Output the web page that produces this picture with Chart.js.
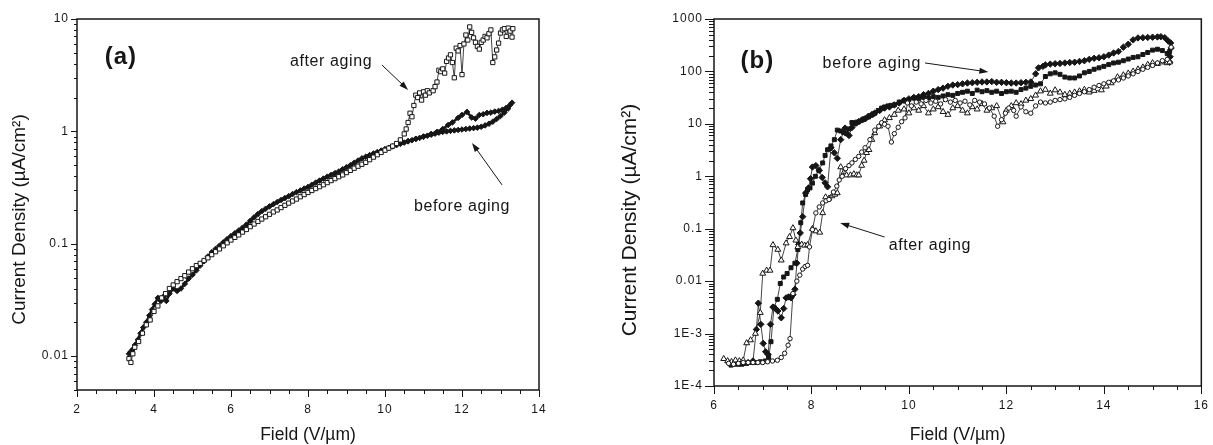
<!DOCTYPE html>
<html>
<head>
<meta charset="utf-8">
<title>Current Density vs Field, before and after aging</title>
<script src="https://cdn.jsdelivr.net/npm/chart.js"></script>
<style>
    html, body { margin: 0; padding: 0; background: #fff; }
    body { width: 1213px; height: 445px; position: relative; overflow: hidden; }
    .panel { position: absolute; top: 0; height: 445px; }
    #panelA { left: 0; width: 600px; }
    #panelB { left: 610px; width: 603px; }
</style>
</head>
<body>
<div class="panel" id="panelA"><canvas id="chartA"></canvas></div>
<div class="panel" id="panelB"><canvas id="chartB"></canvas></div>

<script>
    // ---- panel (a): axes ----
    const aXRange = [2, 14];
    const aYRange = [0.005, 10];
    const aXLabels = [2, 4, 6, 8, 10, 12, 14];
    const aYMajor = [0.01, 0.1, 1, 10];
    const aYLabels = ['0.01', '0.1', '1', '10'];

    // ---- panel (a): before aging (filled), [field, current density] ----
    const aBefore = [
        [3.35,0.0105],[3.4,0.011],[3.45,0.0115],[3.5,0.0125],[3.58,0.014],[3.65,0.016],[3.72,0.018],[3.8,0.020],
        [3.88,0.023],[3.95,0.026],[4.02,0.029],[4.1,0.033],[4.18,0.031],[4.25,0.034],[4.32,0.031],[4.4,0.036],
        [4.5,0.040],[4.6,0.038],[4.7,0.040],[4.8,0.044],[4.9,0.049],[5.0,0.053],[5.1,0.058],[5.2,0.064],
        [5.3,0.070],[5.4,0.077],[5.5,0.084],[5.6,0.090],[5.7,0.096],[5.8,0.103],[5.9,0.110],[6.0,0.117],
        [6.1,0.124],[6.2,0.131],[6.3,0.139],[6.4,0.148],[6.5,0.160],[6.6,0.172],[6.7,0.184],[6.8,0.195],
        [6.9,0.205],[7.0,0.215],[7.1,0.225],[7.2,0.235],[7.3,0.245],[7.4,0.255],[7.5,0.265],[7.6,0.277],
        [7.7,0.288],[7.8,0.298],[7.9,0.31],[8.0,0.32],[8.1,0.335],[8.2,0.35],[8.3,0.365],[8.4,0.38],
        [8.5,0.395],[8.6,0.41],[8.7,0.425],[8.8,0.44],[8.9,0.46],[9.0,0.48],[9.1,0.50],[9.2,0.525],
        [9.3,0.55],[9.4,0.575],[9.5,0.595],[9.6,0.615],[9.7,0.635],[9.8,0.655],[9.9,0.675],[10.0,0.695],
        [10.1,0.715],[10.2,0.735],[10.3,0.755],[10.4,0.775],[10.5,0.795],[10.6,0.815],[10.7,0.835],[10.8,0.855],
        [10.9,0.875],[11.0,0.895],[11.1,0.915],[11.2,0.935],[11.3,0.955],[11.4,0.975],[11.5,0.99],[11.6,1.0],
        [11.7,1.01],[11.8,1.02],[11.9,1.03],[12.0,1.04],[12.1,1.05],[12.2,1.06],[12.3,1.07],[12.4,1.08],
        [12.5,1.1],[12.6,1.13],[12.7,1.17],[12.8,1.22],[12.9,1.29],[13.0,1.37],[13.1,1.47],[13.2,1.6],[13.3,1.8],
        // return sweep
        [13.25,1.72],[13.15,1.62],[13.05,1.56],[12.95,1.52],[12.85,1.5],[12.75,1.47],[12.65,1.46],[12.55,1.42],
        [12.45,1.4],[12.35,1.3],[12.25,1.33],[12.13,1.49],[12.0,1.4],[11.9,1.32],[11.75,1.2],[11.64,1.14],
        [11.5,1.05],[11.35,0.99],[11.2,0.95],[11.0,0.9],[10.8,0.86],[10.6,0.82]
    ];

    // ---- panel (a): after aging (open squares) ----
    const aAfter = [
        [3.35,0.0095],[3.4,0.0088],[3.45,0.0105],[3.5,0.012],[3.6,0.0135],[3.7,0.016],[3.8,0.019],[3.9,0.021],
        [4.0,0.025],[4.1,0.028],[4.2,0.033],[4.3,0.036],[4.4,0.040],[4.5,0.043],[4.6,0.046],[4.7,0.049],
        [4.8,0.052],[4.9,0.056],[5.0,0.060],[5.1,0.064],[5.2,0.067],[5.3,0.071],[5.4,0.075],[5.5,0.080],
        [5.6,0.085],[5.7,0.090],[5.8,0.096],[5.9,0.102],[6.0,0.108],[6.1,0.114],[6.2,0.12],[6.3,0.127],
        [6.4,0.134],[6.5,0.142],[6.6,0.15],[6.7,0.158],[6.8,0.166],[6.9,0.174],[7.0,0.183],[7.1,0.192],
        [7.2,0.2],[7.3,0.21],[7.4,0.22],[7.5,0.23],[7.6,0.24],[7.7,0.25],[7.8,0.262],[7.9,0.274],
        [8.0,0.286],[8.1,0.298],[8.2,0.31],[8.3,0.322],[8.4,0.335],[8.5,0.35],[8.6,0.365],[8.7,0.38],
        [8.8,0.395],[8.9,0.41],[9.0,0.43],[9.1,0.45],[9.2,0.47],[9.3,0.49],[9.4,0.51],[9.5,0.53],
        [9.6,0.56],[9.7,0.59],[9.8,0.62],[9.9,0.65],[10.0,0.68],[10.1,0.71],[10.2,0.74],[10.3,0.78],
        [10.4,0.84],[10.5,0.95],[10.55,1.05],[10.6,1.2],[10.65,1.45],[10.7,1.35],[10.75,1.7],[10.8,2.1],
        [10.85,2.0],[10.9,2.2],[10.95,1.9],[11.0,2.25],[11.05,2.1],[11.1,2.3],[11.15,2.2],[11.25,2.3],
        [11.3,2.5],[11.35,2.75],[11.4,3.5],[11.45,3.4],[11.5,3.6],[11.55,3.3],[11.6,4.2],[11.65,4.5],
        [11.7,4.8],[11.75,4.1],[11.8,3.0],[11.85,5.5],[11.9,5.2],[11.95,5.8],[12.0,3.2],[12.05,6.0],
        [12.1,7.2],[12.15,6.5],[12.2,8.5],[12.25,7.6],[12.3,6.8],[12.35,6.2],[12.4,5.7],[12.45,5.4],
        [12.5,6.2],[12.55,6.5],[12.6,7.0],[12.65,6.8],[12.7,7.4],[12.75,8.0],[12.8,4.1],[12.85,4.6],
        [12.9,5.3],[12.95,6.1],[13.0,7.5],[13.05,8.0],[13.1,8.2],[13.15,7.0],[13.2,8.3],[13.25,7.8],
        [13.3,6.9],[13.32,8.2]
    ];

    // ---- panel (b): axes ----
    const bXRange = [6, 16];
    const bYRange = [1e-4, 1000];
    const bXLabels = [6, 8, 10, 12, 14, 16];
    const bYMajor = [1e-4, 1e-3, 0.01, 0.1, 1, 10, 100, 1000];
    const bYLabels = ['1E-4', '1E-3', '0.01', '0.1', '1', '10', '100', '1000'];

    // ---- panel (b): before aging, filled diamonds ----
    const bDiamonds = [
        [6.3,2.8e-4],[6.4,2.7e-4],[6.5,2.7e-4],[6.6,2.7e-4],[6.7,2.8e-4],[6.8,3.0e-4],[6.87,1.2e-3],[6.91,3.8e-3],
        [6.96,1.5e-3],[7.01,6.5e-4],[7.06,4.5e-4],[7.11,4.0e-4],[7.16,1.5e-3],[7.21,3.2e-3],[7.26,3.0e-3],[7.31,2.7e-3],
        [7.38,2.0e-3],[7.43,3.0e-3],[7.48,4.8e-3],[7.53,5.0e-3],[7.58,4.8e-3],[7.62,5.5e-3],[7.66,7e-3],[7.7,0.022],
        [7.74,0.05],[7.77,0.083],[7.82,0.17],[7.88,0.48],[7.94,0.6],[7.98,0.9],[8.02,1.5],[8.09,1.6],
        [8.16,1.3],[8.22,0.95],[8.28,0.75],[8.33,0.63],[8.4,3.5],[8.47,2.8],[8.53,2.2],[8.6,5],
        [8.69,8.3],[8.77,6],[8.83,8.5],[8.9,10.4],[8.97,11],[9.04,12],[9.1,12.5],[9.17,14],
        [9.24,15],[9.3,16],[9.4,18],[9.5,20],[9.6,21],[9.7,23],[9.8,25],[9.9,28],
        [10.0,30],[10.1,32],[10.2,33],[10.3,36],[10.4,38],[10.5,42],[10.6,45],[10.7,48],
        [10.8,52],[10.9,55],[11.0,56],[11.1,58],[11.2,60],[11.3,61],[11.4,62],[11.5,63],
        [11.6,63],[11.7,64],[11.8,62],[11.9,62],[12.0,61],[12.1,60],[12.2,60],[12.3,61],
        [12.4,62],[12.5,63],[12.6,90],[12.66,117],[12.75,125],[12.8,133],[12.9,138],[13.0,140],
        [13.1,142],[13.2,145],[13.3,148],[13.4,150],[13.5,155],[13.6,160],[13.7,170],[13.8,178],
        [13.9,182],[14.0,190],[14.1,205],[14.2,225],[14.3,240],[14.4,290],[14.5,330],[14.6,400],
        [14.7,435],[14.8,440],[14.9,445],[15.0,450],[15.1,455],[15.17,460],[15.25,440],[15.32,380],
        [15.37,350],[15.38,280],[15.36,190],[15.35,150]
    ];

    // ---- panel (b): before aging, filled squares ----
    const bSquares = [
        [6.35,2.5e-4],[6.45,2.6e-4],[6.55,2.6e-4],[6.65,2.7e-4],[6.75,2.8e-4],[6.85,2.8e-4],[6.95,2.9e-4],[7.05,3.0e-4],
        [7.12,3.5e-4],[7.17,7e-4],[7.23,3.2e-3],[7.3,4.5e-3],[7.36,9e-3],[7.43,0.012],[7.5,0.014],[7.58,0.018],
        [7.66,0.022],[7.72,0.04],[7.78,0.13],[7.82,0.31],[7.88,0.45],[7.92,0.55],[7.97,0.6],[8.02,0.74],
        [8.08,1.0],[8.15,1.3],[8.23,1.8],[8.28,2.5],[8.33,3.2],[8.4,3.8],[8.47,5],[8.53,7.6],
        [8.6,7.3],[8.66,6.8],[8.72,6.5],[8.77,8],[8.83,10.6],[8.9,10],[8.97,11],[9.04,11.8],
        [9.1,12.5],[9.17,13.5],[9.24,14.7],[9.3,16],[9.37,18],[9.44,20],[9.5,21],[9.57,22],
        [9.63,22.5],[9.7,23],[9.8,26],[9.9,28],[10.0,29],[10.1,31],[10.2,30],[10.3,32],
        [10.4,31],[10.5,33],[10.6,32],[10.7,34],[10.8,36],[10.9,35],[11.0,38],[11.1,40],
        [11.2,42],[11.3,38],[11.4,44],[11.5,41],[11.6,43],[11.7,40],[11.8,42],[11.9,38],
        [12.0,41],[12.1,42],[12.2,40],[12.3,45],[12.4,48],[12.5,52],[12.6,55],[12.7,58],
        [12.8,80],[12.9,90],[13.0,94],[13.1,88],[13.2,78],[13.3,75],[13.4,75],[13.5,82],
        [13.6,94],[13.7,100],[13.8,110],[13.9,117],[14.0,125],[14.1,135],[14.2,145],[14.3,150],
        [14.4,160],[14.5,172],[14.6,185],[14.7,190],[14.8,210],[14.9,230],[15.0,255],[15.1,265],
        [15.2,250],[15.3,220],[15.35,240]
    ];

    // ---- panel (b): after aging, open triangles ----
    const bTriangles = [
        [6.2,3.3e-4],[6.28,3.0e-4],[6.36,2.9e-4],[6.44,3.1e-4],[6.52,3.0e-4],[6.6,3.1e-4],[6.67,6.6e-4],[6.75,7.5e-4],
        [6.85,1.0e-3],[6.95,2.5e-3],[7.0,0.014],[7.08,0.016],[7.15,0.016],[7.21,0.049],[7.31,0.04],[7.38,0.025],
        [7.48,0.053],[7.55,0.07],[7.62,0.103],[7.68,0.06],[7.72,0.045],[7.8,0.05],[7.86,0.048],[7.92,0.049],
        [8.02,0.1],[8.09,0.09],[8.17,0.085],[8.23,0.2],[8.29,0.40],[8.36,0.38],[8.42,0.42],[8.48,0.45],
        [8.53,0.48],[8.6,1.5],[8.67,1.2],[8.72,1.05],[8.8,1.05],[8.87,1.1],[8.93,1.05],[8.97,1.05],
        [9.03,1.6],[9.08,2.0],[9.13,2.8],[9.18,3.2],[9.24,5],[9.3,6.7],[9.4,9],[9.5,11.8],
        [9.6,13],[9.7,15],[9.78,18],[9.9,19],[10.0,16],[10.1,20],[10.2,18],[10.3,22],
        [10.4,16],[10.5,19],[10.6,21],[10.7,17],[10.8,15],[10.9,20],[11.0,22],[11.1,18],
        [11.2,16],[11.3,21],[11.4,19],[11.5,24],[11.6,18],[11.7,20],[11.8,22],[11.93,10.8],
        [12.0,18],[12.1,22],[12.2,25],[12.3,24],[12.4,28],[12.5,30],[12.6,35],[12.7,42],
        [12.8,45],[12.9,38],[13.0,44],[13.1,40],[13.2,36],[13.3,38],[13.4,40],[13.5,42],
        [13.6,45],[13.7,40],[13.8,43],[13.95,44],[14.05,52],[14.15,60],[14.28,78],[14.4,85],
        [14.5,92],[14.6,100],[14.7,110],[14.8,120],[14.9,135],[15.0,145],[15.1,140],[15.2,150],
        [15.3,145],[15.35,150]
    ];

    // ---- panel (b): after aging, open circles ----
    const bCircles = [
        [6.3,2.7e-4],[6.4,2.6e-4],[6.5,2.7e-4],[6.6,2.8e-4],[6.7,2.8e-4],[6.8,2.8e-4],[6.9,2.8e-4],[7.0,2.8e-4],
        [7.1,2.9e-4],[7.2,3.0e-4],[7.3,3.1e-4],[7.38,3.5e-4],[7.45,4.2e-4],[7.52,6e-4],[7.56,8e-4],[7.62,5.8e-3],
        [7.7,0.01],[7.76,0.013],[7.82,0.017],[7.87,0.019],[7.92,0.02],[7.96,0.045],[8.02,0.096],[8.09,0.2],
        [8.16,0.26],[8.23,0.31],[8.3,0.34],[8.36,0.36],[8.45,0.5],[8.52,0.65],[8.57,0.85],[8.63,1.0],
        [8.7,1.4],[8.77,1.6],[8.83,1.8],[8.9,2.1],[8.97,2.4],[9.03,2.9],[9.1,3.5],[9.2,5],
        [9.3,7.6],[9.38,9],[9.44,10.5],[9.5,9.8],[9.57,9],[9.64,4.5],[9.7,6.5],[9.78,8.6],
        [9.85,11],[9.92,13],[9.97,25],[10.05,22],[10.15,26],[10.25,24],[10.35,28],[10.45,25],
        [10.55,27],[10.65,24],[10.75,29],[10.85,26],[10.95,28],[11.05,25],[11.15,27],[11.25,23],
        [11.35,28],[11.45,26],[11.55,24],[11.65,20],[11.75,14],[11.82,9],[11.9,12],[11.98,16],
        [12.05,20],[12.15,18],[12.2,14],[12.3,21],[12.4,17],[12.5,16],[12.6,22],[12.7,26],
        [12.8,25],[12.9,26],[13.0,28],[13.1,29],[13.2,30],[13.3,32],[13.4,35],[13.5,38],
        [13.6,41],[13.7,45],[13.8,50],[13.9,54],[14.0,58],[14.1,62],[14.2,66],[14.3,69],
        [14.4,75],[14.5,82],[14.6,90],[14.7,100],[14.8,110],[14.9,120],[15.0,130],[15.1,145],
        [15.2,160],[15.3,170],[15.38,290]
    ];

    const INK = '#161616';
    const FONT = '"Liberation Sans", Arial, Helvetica, sans-serif';
    Chart.defaults.font.family = FONT;
    Chart.defaults.color = INK;

    const toPoints = arr => arr.map(p => ({ x: p[0], y: p[1] }));
    const sameLog = (a, b) => Math.abs(Math.log10(a) - Math.log10(b)) < 1e-6;

    // 1..9 x 10^n tick positions inside a range
    function logTickValues(min, max) {
        const out = [];
        for (let e = -6; e <= 4; e++) {
            for (let k = 1; k <= 9; k++) {
                const v = k * Math.pow(10, e);
                if (v >= min * 0.999 && v <= max * 1.001) out.push(v);
            }
        }
        return out;
    }

    function drawArrow(ctx, x0, y0, x1, y1) {
        const ang = Math.atan2(y1 - y0, x1 - x0);
        const L = 9, W = 3;
        ctx.beginPath();
        ctx.moveTo(x0, y0);
        ctx.lineTo(x1 - Math.cos(ang) * 4, y1 - Math.sin(ang) * 4);
        ctx.stroke();
        ctx.beginPath();
        ctx.moveTo(x1, y1);
        ctx.lineTo(x1 - L * Math.cos(ang) + W * Math.sin(ang), y1 - L * Math.sin(ang) - W * Math.cos(ang));
        ctx.lineTo(x1 - L * Math.cos(ang) - W * Math.sin(ang), y1 - L * Math.sin(ang) + W * Math.cos(ang));
        ctx.closePath();
        ctx.fill();
    }

    // frame, tick marks, axis titles and the text notes
    const decor = {
        id: 'decor',
        beforeDraw(chart) {
            chart.ctx.letterSpacing = '1px';
        },
        afterDraw(chart, args, o) {
            const { ctx, chartArea: ca, scales: { x, y } } = chart;
            ctx.save();
            ctx.strokeStyle = INK;
            ctx.fillStyle = INK;

            ctx.lineWidth = 1;
            ctx.beginPath();
            x.ticks.forEach(t => {
                const px = Math.round(x.getPixelForValue(t.value)) + 0.5;
                const len = o.xMajor.includes(t.value) ? o.xTick[0] : o.xTick[1];
                ctx.moveTo(px, ca.bottom);
                ctx.lineTo(px, ca.bottom + len);
            });
            y.ticks.forEach(t => {
                const py = Math.round(y.getPixelForValue(t.value)) + 0.5;
                const len = o.yMajor.some(m => sameLog(m, t.value)) ? o.yTick[0] : o.yTick[1];
                ctx.moveTo(ca.left, py);
                ctx.lineTo(ca.left - len, py);
            });
            ctx.stroke();

            ctx.lineWidth = 1.5;
            ctx.strokeRect(ca.left, ca.top, ca.right - ca.left, ca.bottom - ca.top);

            ctx.textAlign = 'center';
            ctx.textBaseline = 'middle';
            ctx.letterSpacing = '0px';

            // y title
            ctx.save();
            ctx.font = o.yTitle.size + 'px ' + FONT;
            ctx.translate(ca.left + o.yTitle.dx, (ca.top + ca.bottom) / 2 + o.yTitle.dy);
            ctx.rotate(-Math.PI / 2);
            ctx.fillText(o.yTitle.text, 0, 0);
            ctx.restore();

            // x title
            ctx.font = o.xTitle.size + 'px ' + FONT;
            ctx.fillText(o.xTitle.text, (ca.left + ca.right) / 2, ca.bottom + o.xTitle.dy);

            // notes in data coordinates
            o.notes.forEach(n => {
                ctx.font = (n.bold ? 'bold ' : '') + n.size + 'px ' + FONT;
                ctx.letterSpacing = n.spacing + 'px';
                ctx.fillText(n.text, x.getPixelForValue(n.x), y.getPixelForValue(n.y));
            });
            ctx.letterSpacing = '0px';

            ctx.lineWidth = 1;
            o.arrows.forEach(a => {
                drawArrow(ctx,
                    x.getPixelForValue(a.from[0]), y.getPixelForValue(a.from[1]),
                    x.getPixelForValue(a.to[0]), y.getPixelForValue(a.to[1]));
            });
            ctx.restore();
        }
    };

    function makeChart(canvasId, datasets, ax) {
        const yTicks = logTickValues(ax.yRange[0], ax.yRange[1]);
        return new Chart(document.getElementById(canvasId), {
            type: 'scatter',
            data: { datasets },
            plugins: [decor],
            options: {
                responsive: true,
                maintainAspectRatio: false,
                animation: false,
                events: [],
                layout: { autoPadding: false, padding: ax.padding },
                plugins: {
                    legend: { display: false },
                    tooltip: { enabled: false },
                    decor: ax.decor
                },
                scales: {
                    x: {
                        type: 'linear',
                        min: ax.xRange[0],
                        max: ax.xRange[1],
                        grid: { display: false, drawTicks: true, tickLength: 7 },
                        border: { display: false },
                        ticks: {
                            stepSize: 0.5,
                            autoSkip: false,
                            maxRotation: 0,
                            padding: 5,
                            font: { size: 12 },
                            callback: v => ax.xLabels.includes(v) ? String(v) : ''
                        },
                        afterFit: s => { s.height = ax.xHeight; }
                    },
                    y: {
                        type: 'logarithmic',
                        min: ax.yRange[0],
                        max: ax.yRange[1],
                        grid: { display: false, drawTicks: true, tickLength: ax.yLabelGap },
                        border: { display: false },
                        afterBuildTicks: s => { s.ticks = yTicks.map(v => ({ value: v })); },
                        ticks: {
                            autoSkip: false,
                            padding: 1,
                            font: { size: 12 },
                            callback: v => {
                                const i = ax.yMajor.findIndex(m => sameLog(m, v));
                                return i >= 0 ? ax.yLabels[i] : '';
                            }
                        },
                        afterFit: s => { s.width = ax.yWidth; }
                    }
                }
            }
        });
    }

    makeChart('chartA', [
        {
            label: 'after aging',
            data: toPoints(aAfter),
            showLine: true,
            borderColor: INK,
            borderWidth: 0.8,
            pointStyle: 'rect',
            pointRadius: 3,
            pointBackgroundColor: '#fff',
            pointBorderColor: INK,
            pointBorderWidth: 1
        },
        {
            label: 'before aging',
            data: toPoints(aBefore),
            showLine: true,
            borderColor: INK,
            borderWidth: 2.6,
            pointStyle: 'rectRot',
            pointRadius: 2.8,
            pointBackgroundColor: INK,
            pointBorderColor: INK,
            pointBorderWidth: 1
        }
    ], {
        xRange: aXRange, yRange: aYRange,
        xLabels: aXLabels, yMajor: aYMajor, yLabels: aYLabels,
        padding: { left: 0, top: 19, right: 61, bottom: 0 },
        xHeight: 55, yWidth: 77, yLabelGap: 7,
        decor: {
            xMajor: aXLabels, yMajor: aYMajor,
            xTick: [7, 4], yTick: [6, 3],
            yTitle: { text: 'Current Density (µA/cm²)', size: 19, dx: -57, dy: 15 },
            xTitle: { text: 'Field (V/µm)', size: 17.5, dy: 45.5 },
            notes: [
                { text: '(a)', x: 3.14, y: 4.6, size: 24, bold: true, spacing: 1 },
                { text: 'after aging', x: 8.6, y: 4.15, size: 16, spacing: 0.6 },
                { text: 'before aging', x: 12.0, y: 0.213, size: 16, spacing: 0.6 }
            ],
            arrows: [
                { from: [9.92, 3.9], to: [10.6, 2.34] },
                { from: [13.04, 0.334], to: [12.26, 0.79] }
            ]
        }
    });

    const openStyle = { pointBackgroundColor: '#fff', pointBorderColor: INK, pointBorderWidth: 1 };
    const filledStyle = { pointBackgroundColor: INK, pointBorderColor: INK, pointBorderWidth: 1 };

    makeChart('chartB', [
        Object.assign({ label: 'after aging (circles)', data: toPoints(bCircles), showLine: true,
            borderColor: INK, borderWidth: 0.8, pointStyle: 'circle', pointRadius: 2.2 }, openStyle),
        Object.assign({ label: 'after aging (triangles)', data: toPoints(bTriangles), showLine: true,
            borderColor: INK, borderWidth: 0.8, pointStyle: 'triangle', pointRadius: 3.4 }, openStyle),
        Object.assign({ label: 'before aging (squares)', data: toPoints(bSquares), showLine: true,
            borderColor: INK, borderWidth: 0.8, pointStyle: 'rect', pointRadius: 2.8 }, filledStyle),
        Object.assign({ label: 'before aging (diamonds)', data: toPoints(bDiamonds), showLine: true,
            borderColor: INK, borderWidth: 0.8, pointStyle: 'rectRot', pointRadius: 3.2 }, filledStyle)
    ], {
        xRange: bXRange, yRange: bYRange,
        xLabels: bXLabels, yMajor: bYMajor, yLabels: bYLabels,
        padding: { left: 0, top: 19, right: 5, bottom: 0 },
        xHeight: 59, yWidth: 104, yLabelGap: 10,
        decor: {
            xMajor: bXLabels, yMajor: bYMajor,
            xTick: [8, 4], yTick: [9, 5],
            yTitle: { text: 'Current Density (µA/cm²)', size: 21, dx: -83.5, dy: 17.5 },
            xTitle: { text: 'Field (V/µm)', size: 17.5, dy: 49.5 },
            notes: [
                { text: '(b)', x: 6.89, y: 158, size: 24, bold: true, spacing: 1 },
                { text: 'before aging', x: 9.24, y: 139, size: 16, spacing: 0.8 },
                { text: 'after aging', x: 10.43, y: 0.047, size: 16, spacing: 0.6 }
            ],
            arrows: [
                { from: [10.33, 145], to: [11.63, 97.5] },
                { from: [9.5, 0.0695], to: [8.59, 0.1285] }
            ]
        }
    });
</script>
</body>
</html>
